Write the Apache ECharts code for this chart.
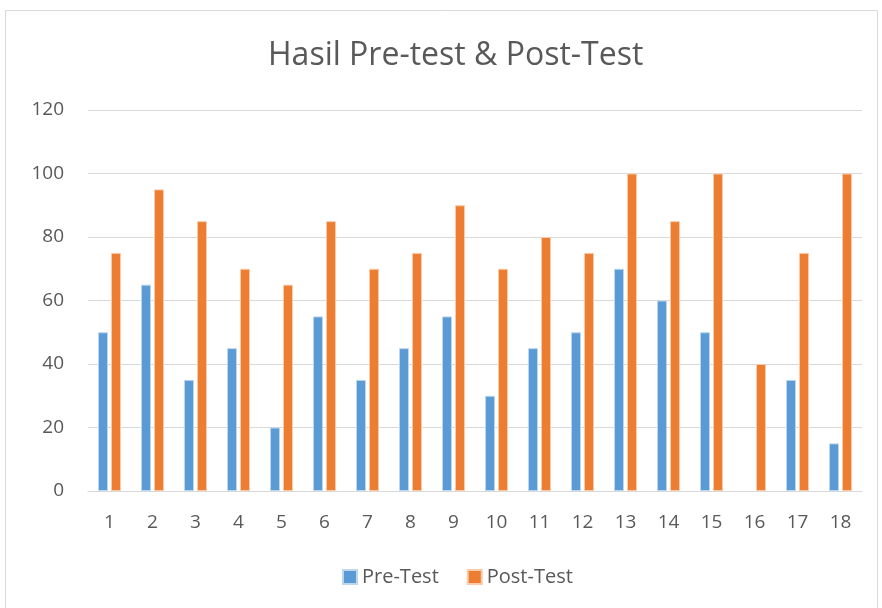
<!DOCTYPE html>
<html>
<head>
<meta charset="utf-8">
<script src="https://cdn.jsdelivr.net/npm/echarts@6/dist/echarts.min.js"></script>
<style>
  html, body { margin: 0; padding: 0; background: #fff; }
  #chart { width: 882px; height: 608px; }
</style>
</head>
<body>
<div id="chart"></div>
<script>
// data
const categories = ['1','2','3','4','5','6','7','8','9','10','11','12','13','14','15','16','17','18'];
const preTest  = [50, 65, 35, 45, 20, 55, 35, 45, 55, 30, 45, 50, 70, 60, 50, 0, 35, 15];
const postTest = [75, 95, 85, 70, 65, 85, 70, 75, 90, 70, 80, 75, 100, 85, 100, 40, 75, 100];

const chart = echarts.init(document.getElementById('chart'));
const font = 'Open Sans, Lato, sans-serif';

// a zero bar should not leave a border sliver
function bars(values) {
    return values.map(v => v === 0 ? { value: v, itemStyle: { borderWidth: 0 } } : v);
}

chart.setOption({
    animation: false,
    graphic: [{
        type: 'rect',
        shape: { x: 5.5, y: 10.5, width: 872, height: 610 },
        style: { fill: 'none', stroke: '#d9d9d9', lineWidth: 1 }
    }],
    title: {
        text: 'Hasil Pre-test & Post-Test',
        left: 263,
        top: 35,
        textStyle: { color: '#595959', fontSize: 32, fontWeight: 'normal', fontFamily: font }
    },
    legend: {
        left: 337,
        bottom: 16,
        itemWidth: 14,
        itemHeight: 14,
        itemGap: 28,
        icon: 'rect',
        textStyle: { color: '#595959', fontSize: 20, fontFamily: font }
    },
    grid: { left: 88, right: 20, top: 110, bottom: 117 },
    xAxis: {
        type: 'category',
        data: categories,
        axisLine: { lineStyle: { color: '#d9d9d9', width: 1 } },
        axisTick: { show: false },
        axisLabel: { color: '#595959', fontSize: 19, fontFamily: font, margin: 22 }
    },
    yAxis: {
        type: 'value',
        min: 0, max: 120, interval: 20,
        axisLine: { show: false },
        axisTick: { show: false },
        splitLine: { lineStyle: { color: '#d9d9d9', width: 1 } },
        axisLabel: { color: '#595959', fontSize: 19, fontFamily: font, margin: 24 }
    },
    series: [{
        name: 'Pre-Test',
        type: 'bar',
        data: bars(preTest),
        barWidth: 10,
        barGap: '30%',
        itemStyle: { color: '#5b9bd5', borderColor: '#bdd7ee', borderWidth: 1 }
    }, {
        name: 'Post-Test',
        type: 'bar',
        data: bars(postTest),
        barWidth: 10,
        itemStyle: { color: '#ed7d31', borderColor: '#f8cbad', borderWidth: 1 }
    }]
});
</script>
</body>
</html>
